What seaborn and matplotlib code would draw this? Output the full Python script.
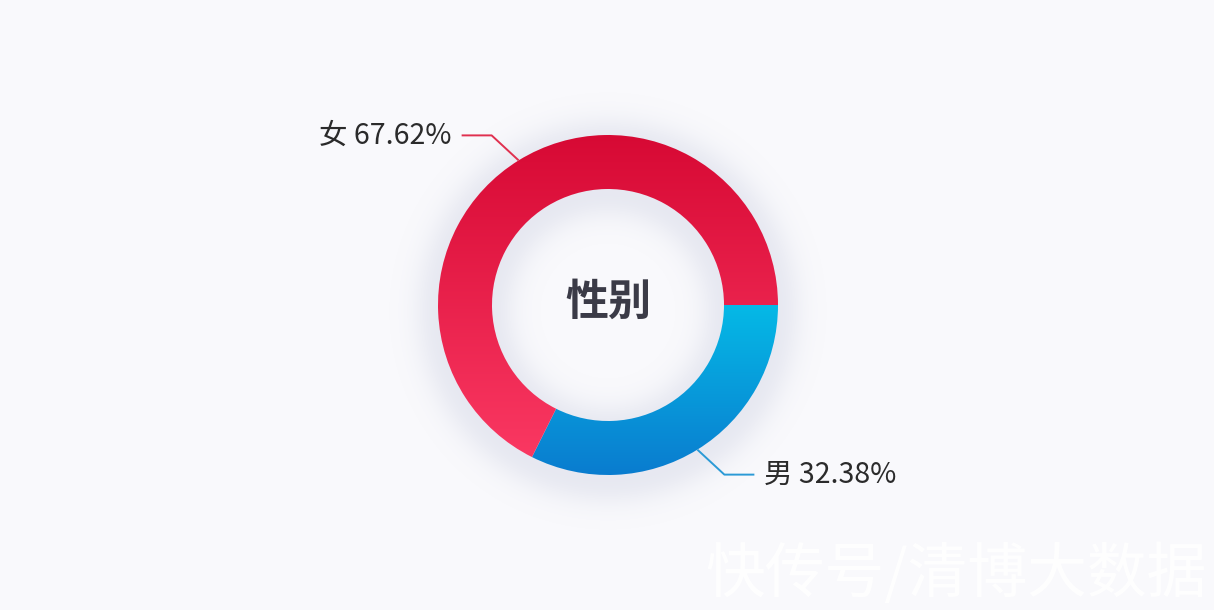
import numpy as np
import matplotlib
matplotlib.use("Agg")
import matplotlib.pyplot as plt
import seaborn as sns
from matplotlib.colors import LinearSegmentedColormap, to_rgb

# ---- data ----
categories = ["男", "女"]
shares = [32.38, 67.62]
labels = ["男 32.38%", "女 67.62%"]
center_title = "性别"
watermark = "快传号/清博大数据"

# ---- style ----
colors_top = ["#05b9e6", "#d70934"]
colors_bottom = ["#0a7ccf", "#fa3862"]
line_colors = ["#2b9ad6", "#e0304f"]
bg = "#f9f9fc"

sns.set_theme(style="white")
plt.rcParams['font.family'] = ['Noto Sans CJK SC', 'DejaVu Sans']

W, H = 1214, 610
fig = plt.figure(figsize=(W / 100, H / 100), dpi=100, facecolor=bg)
ax = fig.add_axes([0, 0, 1, 1])
ax.set_facecolor(bg)

cx, cy, R, ring = 608, 305, 170, 54

# soft shadow/glow around the ring
yy, xx = np.mgrid[0:H, 0:W] + 0.5
r = np.hypot(xx - cx, yy - (cy - 6))
d = np.maximum(np.maximum(r - R, (R - ring) - r), 0)
alpha = 0.24 * np.exp(-(d / 24.0) ** 2)
shadow = np.zeros((H, W, 4))
shadow[..., :3] = to_rgb("#b0b6d0")
shadow[..., 3] = alpha
ax.imshow(shadow, extent=(0, W, 0, H), origin="lower", zorder=0,
          interpolation="bilinear", aspect="auto")

wedges, _ = ax.pie(shares, center=(cx, cy), radius=R, startangle=0,
                   counterclock=False, frame=True,
                   wedgeprops=dict(width=ring, linewidth=0.6, edgecolor="none"))

grad = np.linspace(0, 1, 256).reshape(-1, 1)
for wdg, ct, cb in zip(wedges, colors_top, colors_bottom):
    ext = wdg.get_path().get_extents()
    cmap = LinearSegmentedColormap.from_list("g", [cb, ct])
    im = ax.imshow(grad, cmap=cmap, origin="lower", aspect="auto",
                   extent=(ext.x0, ext.x1, ext.y0, ext.y1), zorder=2,
                   interpolation="bilinear")
    im.set_clip_path(wdg)
    wdg.set_facecolor("none")
    wdg.set_zorder(3)

# leader lines and labels
start = 0.0
for share, lab, lc in zip(shares, labels, line_colors):
    mid = np.deg2rad(start - share * 3.6 / 2)
    start -= share * 3.6
    sx = np.sign(np.cos(mid))
    sy = np.sign(np.sin(mid))
    p0 = (cx + R * np.cos(mid), cy + R * np.sin(mid))
    p1 = (p0[0] + sx * 27, p0[1] + sy * 25)
    p2 = (p1[0] + sx * 30, p1[1])
    ax.plot([p0[0], p1[0], p2[0]], [p0[1], p1[1], p2[1]], color=lc, lw=1.4,
            zorder=4, solid_capstyle="butt")
    ax.text(p2[0] + sx * 10, p2[1], lab, ha="left" if sx > 0 else "right",
            va="center", fontsize=20.5, color="#2b2b2b", zorder=5)

ax.text(cx, cy + 3, center_title, ha="center", va="center", fontsize=31,
        fontweight="bold", color="#3b3b47", zorder=5)

ax.text(1207, 35, watermark, ha="right", va="center", fontsize=43,
        color="white", alpha=0.9, zorder=6)

ax.set_xlim(0, W)
ax.set_ylim(0, H)
ax.axis("off")
fig.savefig("out.png", dpi=100, facecolor=bg)
